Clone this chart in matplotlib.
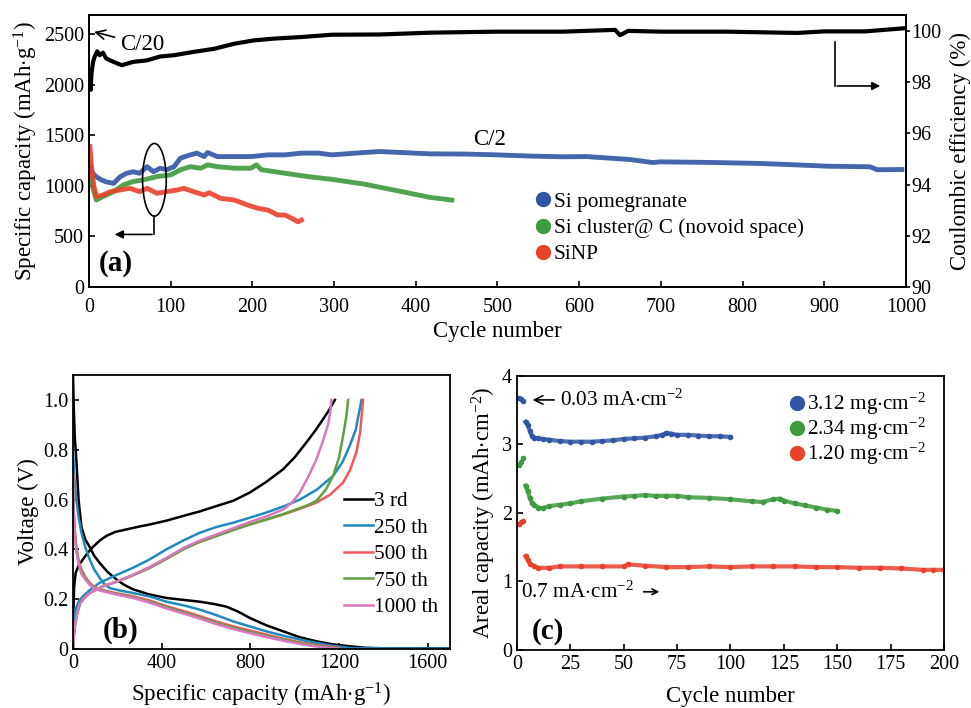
import matplotlib
matplotlib.use("Agg")
import matplotlib.pyplot as plt
from matplotlib.patches import Ellipse
from matplotlib.lines import Line2D

plt.rcParams['font.family'] = ['Liberation Serif', 'DejaVu Serif']
plt.rcParams['mathtext.fontset'] = 'custom'
plt.rcParams['mathtext.rm'] = 'Liberation Serif'
plt.rcParams['mathtext.it'] = 'Liberation Serif:italic'
plt.rcParams['mathtext.bf'] = 'Liberation Serif:bold'
plt.rcParams['axes.linewidth'] = 1.3

# ---------------- Panel (a) data ----------------
pom_cycles = [1, 3, 5, 9, 15, 21, 30, 38, 46, 54, 62, 71, 79, 87, 95, 104, 112, 124, 132, 141,
              145, 157, 178, 198, 219, 240, 260, 281, 297, 336, 356, 417, 460, 499, 540, 580,
              609, 662, 690, 699, 760, 821, 860, 903, 956, 965, 995]
pom_cap = [1190, 1150, 1120, 1090, 1060, 1040, 1025, 1090, 1125, 1140, 1125, 1190, 1140, 1175,
           1160, 1190, 1275, 1307, 1324, 1290, 1330, 1290, 1290, 1290, 1307, 1307, 1324, 1324,
           1307, 1330, 1340, 1317, 1315, 1307, 1295, 1288, 1290, 1261, 1231, 1238, 1232, 1222,
           1210, 1195, 1189, 1160, 1162]

clu_cycles = [1, 4, 9, 17, 30, 42, 54, 67, 83, 100, 112, 124, 137, 145, 157, 178, 198, 205,
              211, 240, 268, 297, 336, 377, 417, 444]
clu_cap = [1125, 1000, 860, 894, 943, 1010, 1043, 1060, 1092, 1109, 1160, 1190, 1175, 1208,
           1190, 1175, 1175, 1208, 1160, 1125, 1092, 1065, 1019, 953, 887, 860]

sinp_cycles = [1, 3, 6, 9, 17, 26, 38, 50, 62, 71, 83, 95, 108, 116, 128, 141, 147, 161, 178,
               194, 207, 219, 231, 240, 248, 256, 260]
sinp_cap = [1390, 1190, 993, 894, 910, 943, 960, 976, 943, 976, 927, 943, 960, 976, 943, 910,
            933, 877, 860, 811, 778, 761, 712, 712, 679, 645, 662]

ce_cycles = [1, 2, 3, 5, 7, 10, 13, 17, 21, 30, 40, 54, 71, 87, 104, 128, 153, 178, 202, 227,
             260, 297, 356, 417, 499, 580, 644, 650, 660, 700, 780, 867, 900, 950, 997]
ce_val = [98.1, 97.7, 98.35, 98.8, 99.0, 99.2, 99.05, 99.15, 98.92, 98.79, 98.66, 98.79,
          98.85, 99.0, 99.05, 99.18, 99.3, 99.5, 99.63, 99.7, 99.76, 99.85, 99.86, 99.93,
          99.97, 99.97, 100.04, 99.83, 100.0, 99.97, 99.97, 99.92, 99.98, 99.98, 100.1]

legend_a = ['Si pomegranate', 'Si cluster@ C (novoid space)', 'SiNP']

# ---------------- Panel (b) data ----------------
b_labels = ['3 rd', '250 th', '500 th', '750 th', '1000 th']
dis_cap = {
    '3 rd':    [0, 4, 8, 15, 25, 38, 55, 75, 95, 120, 155, 195, 230, 270, 340, 421, 500, 572,
                640, 692, 745, 797, 870, 948, 1020, 1098, 1170, 1248, 1320, 1399, 1700],
    '250 th':  [0, 5, 15, 25, 38, 55, 75, 95, 120, 140, 165, 210, 270, 350, 421, 500, 572, 650,
                722, 800, 872, 950, 1023, 1100, 1173, 1230, 1263, 1700],
    '500 th':  [0, 3, 8, 15, 25, 38, 55, 75, 95, 120, 190, 270, 346, 421, 500, 572, 647, 722,
                800, 872, 950, 1023, 1100, 1173, 1203],
    '750 th':  [0, 3, 8, 15, 25, 38, 55, 75, 95, 120, 190, 270, 346, 421, 500, 572, 647, 722,
                800, 872, 950, 1023, 1100, 1150, 1200],
    '1000 th': [0, 3, 8, 15, 25, 38, 55, 75, 95, 120, 190, 270, 346, 421, 500, 572, 647, 722,
                800, 872, 950, 1023, 1090, 1140, 1190],
}
dis_v = {
    '3 rd':    [1.10, 0.95, 0.85, 0.76, 0.60, 0.49, 0.44, 0.41, 0.375, 0.346, 0.31, 0.28, 0.258,
                0.24, 0.22, 0.205, 0.197, 0.19, 0.18, 0.17, 0.15, 0.125, 0.096, 0.071, 0.048,
                0.031, 0.019, 0.011, 0.005, 0.003, 0.003],
    '250 th':  [0.80, 0.70, 0.60, 0.53, 0.467, 0.41, 0.36, 0.32, 0.286, 0.262, 0.245, 0.235,
                0.225, 0.21, 0.19, 0.175, 0.158, 0.135, 0.111, 0.09, 0.071, 0.053, 0.038,
                0.024, 0.013, 0.006, 0.003, 0.002],
    '500 th':  [0.70, 0.56, 0.48, 0.41, 0.355, 0.32, 0.29, 0.266, 0.25, 0.24, 0.225, 0.212,
                0.195, 0.172, 0.152, 0.132, 0.11, 0.091, 0.074, 0.058, 0.041, 0.027, 0.016,
                0.008, 0.003],
    '750 th':  [0.70, 0.55, 0.47, 0.40, 0.35, 0.31, 0.285, 0.262, 0.247, 0.238, 0.222, 0.208,
                0.19, 0.168, 0.147, 0.126, 0.105, 0.085, 0.068, 0.052, 0.037, 0.024, 0.013,
                0.007, 0.002],
    '1000 th': [0.70, 0.54, 0.46, 0.39, 0.345, 0.30, 0.28, 0.258, 0.244, 0.235, 0.22, 0.205,
                0.186, 0.163, 0.142, 0.122, 0.10, 0.080, 0.063, 0.048, 0.033, 0.020, 0.011,
                0.006, 0.002],
}
chg_cap = {
    '3 rd':    [0, 2, 5, 12, 25, 45, 65, 90, 120, 150, 190, 240, 290, 346, 420, 496, 570, 647,
                722, 797, 870, 948, 1000, 1053, 1095, 1128, 1155, 1181],
    '250 th':  [0, 2, 5, 12, 25, 45, 80, 120, 190, 270, 346, 421, 496, 572, 647, 722, 797, 872,
                948, 1023, 1100, 1173, 1215, 1248, 1275, 1301],
    '500 th':  [0, 3, 8, 18, 30, 50, 75, 130, 195, 270, 346, 421, 496, 570, 647, 722, 797, 872,
                948, 1020, 1060, 1098, 1160, 1218, 1250, 1278, 1295, 1308],
    '750 th':  [0, 3, 8, 18, 30, 50, 75, 130, 195, 270, 346, 421, 496, 570, 647, 722, 797, 872,
                948, 1020, 1060, 1098, 1140, 1173, 1200, 1218, 1232, 1241],
    '1000 th': [0, 3, 8, 18, 30, 50, 75, 130, 195, 270, 346, 421, 496, 570, 647, 722, 797, 872,
                948, 990, 1023, 1060, 1098, 1125, 1150, 1160, 1165],
}
chg_v = {
    '3 rd':    [0, 0.15, 0.25, 0.306, 0.335, 0.36, 0.385, 0.41, 0.435, 0.454, 0.47, 0.48, 0.49,
                0.50, 0.515, 0.534, 0.552, 0.574, 0.595, 0.628, 0.67, 0.722, 0.77, 0.83, 0.88,
                0.923, 0.96, 1.0],
    '250 th':  [0, 0.06, 0.11, 0.16, 0.19, 0.212, 0.24, 0.266, 0.295, 0.326, 0.36, 0.40, 0.435,
                0.467, 0.49, 0.507, 0.527, 0.548, 0.572, 0.60, 0.64, 0.695, 0.75, 0.816, 0.88,
                1.0],
    '500 th':  [0, 0.05, 0.09, 0.14, 0.18, 0.205, 0.225, 0.25, 0.27, 0.296, 0.326, 0.362, 0.40,
                0.43, 0.454, 0.478, 0.50, 0.52, 0.54, 0.562, 0.575, 0.588, 0.62, 0.668, 0.72,
                0.79, 0.87, 1.0],
    '750 th':  [0, 0.05, 0.09, 0.14, 0.18, 0.205, 0.225, 0.25, 0.27, 0.296, 0.326, 0.362, 0.40,
                0.43, 0.454, 0.478, 0.50, 0.52, 0.542, 0.565, 0.578, 0.595, 0.64, 0.695, 0.77,
                0.856, 0.93, 1.0],
    '1000 th': [0, 0.05, 0.09, 0.14, 0.18, 0.205, 0.225, 0.25, 0.27, 0.298, 0.33, 0.366, 0.405,
                0.435, 0.46, 0.485, 0.51, 0.532, 0.56, 0.59, 0.628, 0.69, 0.762, 0.83, 0.90,
                0.95, 1.0],
}
b_colors = ['#000000', '#1f8ac0', '#f0585a', '#5fa040', '#d878c0']

# ---------------- Panel (c) data ----------------
c_labels = [r'3.12 mg$\cdot$cm$^{-2}$', r'2.34 mg$\cdot$cm$^{-2}$', r'1.20 mg$\cdot$cm$^{-2}$']
c_hi_cycles = [1, 2, 3, 4, 5, 6, 7, 8, 10, 12, 15, 20, 25, 30, 35, 40, 45, 50, 55, 60, 65, 68,
               70, 72, 75, 80, 85, 90, 95, 100]
c_hi_cap = [3.68, 3.67, 3.64, 3.33, 3.28, 3.20, 3.12, 3.10, 3.09, 3.08, 3.07, 3.05, 3.04, 3.04,
            3.04, 3.05, 3.06, 3.08, 3.09, 3.10, 3.12, 3.14, 3.17, 3.16, 3.14, 3.14, 3.13, 3.12,
            3.12, 3.11]
c_mid_cycles = [1, 2, 3, 4, 5, 6, 7, 8, 10, 12, 15, 20, 25, 30, 40, 50, 55, 60, 65, 70, 75, 80,
                90, 100, 110, 115, 120, 123, 125, 130, 135, 140, 145, 150]
c_mid_cap = [2.70, 2.75, 2.80, 2.40, 2.32, 2.22, 2.15, 2.12, 2.08, 2.07, 2.10, 2.12, 2.14, 2.17,
             2.21, 2.24, 2.25, 2.26, 2.25, 2.25, 2.25, 2.23, 2.22, 2.20, 2.17, 2.16, 2.20, 2.21,
             2.18, 2.14, 2.11, 2.08, 2.05, 2.03]
c_lo_cycles = [1, 2, 3, 4, 5, 6, 8, 10, 15, 20, 30, 40, 50, 52, 60, 70, 80, 90, 100, 110, 120,
               130, 140, 150, 160, 170, 180, 190, 195, 200]
c_lo_cap = [1.84, 1.87, 1.88, 1.37, 1.32, 1.26, 1.22, 1.20, 1.20, 1.22, 1.22, 1.22, 1.22, 1.25,
            1.23, 1.21, 1.21, 1.22, 1.21, 1.22, 1.22, 1.22, 1.21, 1.21, 1.20, 1.20, 1.19, 1.17,
            1.17, 1.17]

BLUE = '#2f55a4'
GREEN = '#3d9a3d'
RED = '#e8412c'

FS_TICK = 14.5
FS_LAB = 16.5
FS_LEG = 15.3
FS_PANEL = 21

fig = plt.figure(figsize=(9.71, 7.08), dpi=100)

# ================= Panel (a) =================
ax = fig.add_axes([0.0917, 0.5946, 0.8413, 0.3842])
ax.plot(pom_cycles, pom_cap, color=BLUE, lw=3.5, alpha=0.9, zorder=3)
ax.plot(clu_cycles, clu_cap, color=GREEN, lw=3.5, alpha=0.9, zorder=3)
ax.plot(sinp_cycles, sinp_cap, color=RED, lw=3.5, alpha=0.9, zorder=3)
ax.set_xlim(0, 1000)
ax.set_ylim(0, 2690)
ax.set_xticks(range(0, 1001, 100))
ax.set_yticks(range(0, 2501, 500))
ax.tick_params(labelsize=FS_TICK, direction='in', length=4, width=1.2)
ax.tick_params(axis='x', pad=8)
ax.set_xlabel('Cycle number', fontsize=FS_LAB, labelpad=3)
ax.set_ylabel(r'Specific capacity (mAh$\cdot$g$^{-1}$)', fontsize=FS_LAB, labelpad=3)

ax2 = ax.twinx()
ax2.plot(ce_cycles, ce_val, color='black', lw=3, zorder=3)
ax2.set_ylim(90, 100.62)
ax2.set_yticks(range(90, 101, 2))
ax2.tick_params(labelsize=FS_TICK, direction='out', length=3, width=1.2, pad=1)
ax2.set_ylabel('Coulombic efficiency (%)', fontsize=FS_LAB, labelpad=6)

# annotations (a)
ax.annotate('C/20', xy=(3, 2530), xytext=(38, 2400), fontsize=FS_LAB,
            arrowprops=dict(arrowstyle='->', color='black', lw=1.2), va='center')
ax.text(490, 1460, 'C/2', fontsize=FS_LAB, ha='center', va='center')
ax.add_patch(Ellipse((80, 1060), 29, 720, fill=False, ec='black', lw=1.2, zorder=5))
ax.plot([80, 80], [700, 520], color='black', lw=1.2)
ax.annotate('', xy=(28, 520), xytext=(80.5, 520),
            arrowprops=dict(arrowstyle='-|>', color='black', lw=1.2, mutation_scale=12))
ax2.plot([913, 913], [99.55, 97.85], color='black', lw=1.2)
ax2.annotate('', xy=(972, 97.85), xytext=(912.5, 97.85),
             arrowprops=dict(arrowstyle='-|>', color='black', lw=1.2, mutation_scale=12))
ax.text(0.012, 0.06, '(a)', transform=ax.transAxes, fontsize=FS_PANEL, fontweight='bold')

handles = [Line2D([], [], ls='none', marker='o', ms=10, color=c) for c in (BLUE, GREEN, RED)]
ax.legend(handles, legend_a, loc='upper left', bbox_to_anchor=(0.548, 0.35), frameon=False,
          fontsize=FS_LEG, handlelength=0.6, handletextpad=0.2, labelspacing=0.3,
          borderaxespad=0, borderpad=0)

# ================= Panel (b) =================
bx = fig.add_axes([0.0752, 0.0833, 0.3882, 0.387])
for lab, col in zip(b_labels, b_colors):
    bx.plot(dis_cap[lab], dis_v[lab], color=col, lw=1.8)
    bx.plot(chg_cap[lab], chg_v[lab], color=col, lw=1.8, label=lab)
bx.set_xlim(0, 1700)
bx.set_ylim(0, 1.1)
bx.set_xticks([0, 400, 800, 1200, 1600])
bx.set_yticks([0, 0.2, 0.4, 0.6, 0.8, 1.0])
bx.set_yticklabels(['0', '0.2', '0.4', '0.6', '0.8', '1.0'])
bx.tick_params(labelsize=FS_TICK, direction='in', length=4, width=1.2)
bx.set_xlabel(r'Specific capacity (mAh$\cdot$g$^{-1}$)', fontsize=FS_LAB, labelpad=6)
bx.set_ylabel('Voltage (V)', fontsize=FS_LAB, labelpad=3)
bx.legend(loc='upper left', bbox_to_anchor=(0.72, 0.575), frameon=False, fontsize=FS_LEG,
          handlelength=1.35, handletextpad=0.05, labelspacing=0.31, borderaxespad=0, borderpad=0)
bx.text(0.08, 0.04, '(b)', transform=bx.transAxes, fontsize=FS_PANEL, fontweight='bold')

# ================= Panel (c) =================
cx = fig.add_axes([0.5324, 0.0819, 0.4398, 0.3871])
cx.plot(c_hi_cycles, c_hi_cap, ls='none', marker='o', ms=3, color=BLUE)
cx.plot(c_mid_cycles, c_mid_cap, ls='none', marker='o', ms=3, color=GREEN)
cx.plot(c_lo_cycles, c_lo_cap, ls='none', marker='o', ms=3, color=RED)
cx.plot(c_hi_cycles[3:], c_hi_cap[3:], color=BLUE, lw=3, alpha=0.85)
cx.plot(c_mid_cycles[3:], c_mid_cap[3:], color=GREEN, lw=3, alpha=0.85)
cx.plot(c_lo_cycles[3:], c_lo_cap[3:], color=RED, lw=3, alpha=0.85)
cx.set_xlim(0, 200)
cx.set_ylim(0, 4)
cx.set_xticks(range(0, 201, 25))
cx.set_yticks([0, 1, 2, 3, 4])
cx.tick_params(labelsize=FS_TICK, direction='in', length=4, width=1.2)
cx.set_xlabel('Cycle number', fontsize=FS_LAB, labelpad=9)
cx.set_ylabel(r'Areal capacity (mAh$\cdot$cm$^{-2}$)', fontsize=FS_LAB, labelpad=3)
cx.annotate(r'0.03 mA$\cdot$cm$^{-2}$', xy=(6, 3.65), xytext=(20, 3.65), fontsize=FS_LEG,
            va='center', arrowprops=dict(arrowstyle='->', color='black', lw=1.2))
cx.text(2, 0.85, r'0.7 mA$\cdot$cm$^{-2}$', fontsize=FS_LEG, va='center')
cx.annotate('', xy=(68, 0.85), xytext=(58, 0.85),
            arrowprops=dict(arrowstyle='->', color='black', lw=1.2))
cx.text(0.035, 0.04, '(c)', transform=cx.transAxes, fontsize=FS_PANEL, fontweight='bold')
chandles = [Line2D([], [], ls='none', marker='o', ms=10, color=c) for c in (BLUE, GREEN, RED)]
cx.legend(chandles, c_labels, loc='upper left', bbox_to_anchor=(0.64, 0.945), frameon=False,
          fontsize=FS_LEG, handlelength=0.6, handletextpad=0.2, labelspacing=-0.05,
          borderaxespad=0, borderpad=0)

fig.savefig('out.png', dpi=100)
